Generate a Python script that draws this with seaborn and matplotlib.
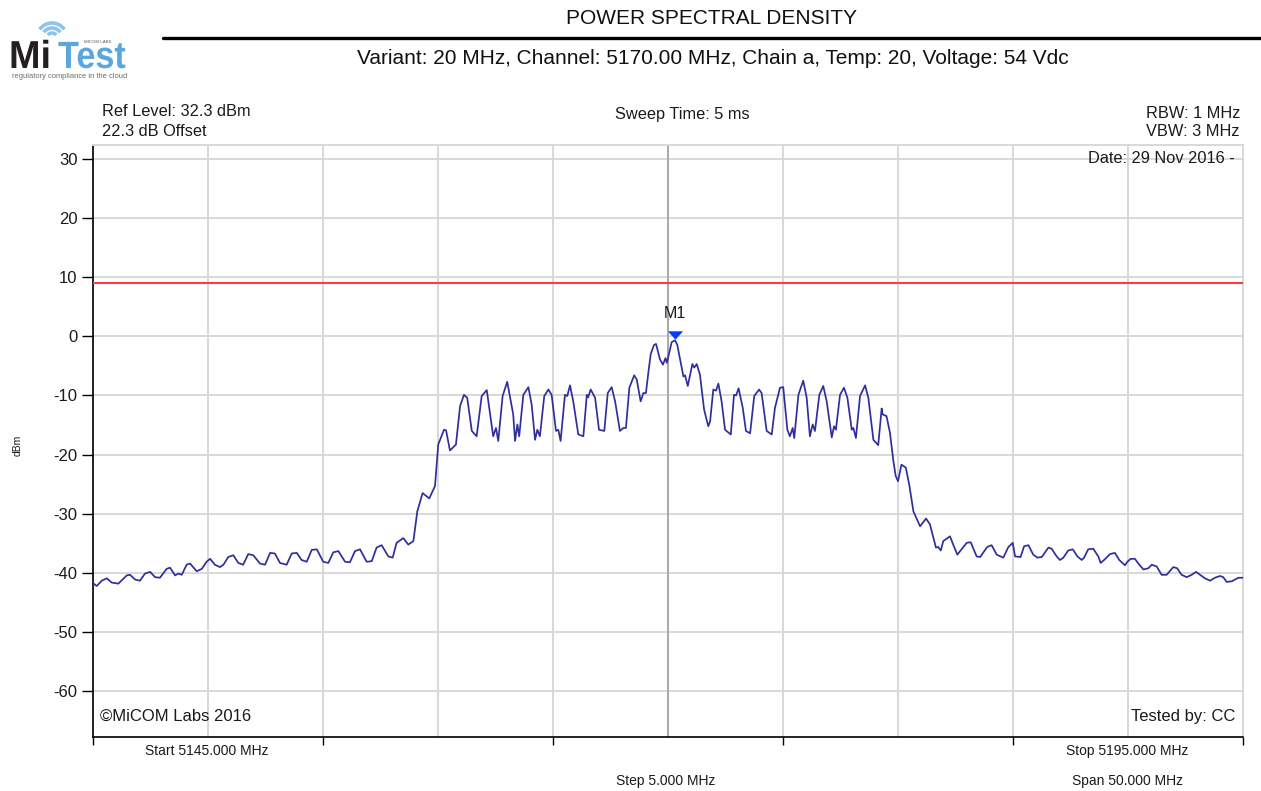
import numpy as np
import pandas as pd
import matplotlib
matplotlib.use("Agg")
import matplotlib.pyplot as plt
from matplotlib.lines import Line2D
from matplotlib.patches import PathPatch, Arc
from matplotlib.path import Path
from matplotlib.textpath import TextPath
from matplotlib.font_manager import FontProperties
from matplotlib.transforms import Affine2D, ScaledTranslation
import seaborn as sns

# Sweep settings (MHz / dBm)
START_MHZ = 5145.0
STOP_MHZ = 5195.0
STEP_MHZ = 5.0
REF_LEVEL_DBM = 32.3
LIMIT_DBM = 9.0

# Trace: frequency offset from start (MHz) and measured level (dBm)
lower_offsets = [0.00, 0.16, 0.38, 0.60, 0.81, 1.10, 1.47, 1.61, 1.83, 2.04,
                 2.26, 2.48, 2.70, 2.91, 3.20, 3.35, 3.57, 3.71, 3.86, 4.07,
                 4.22, 4.51, 4.73, 4.94, 5.09, 5.30, 5.52, 5.67, 5.88, 6.10,
                 6.32, 6.53, 6.75, 6.97, 7.26, 7.48, 7.70, 7.91, 8.13, 8.42,
                 8.64, 8.86, 9.07, 9.29, 9.51, 9.73, 10.01, 10.23, 10.45, 10.67,
                 10.96, 11.17, 11.39, 11.61, 11.90, 12.12, 12.33, 12.55, 12.84, 13.03,
                 13.20, 13.49, 13.71, 13.93]
lower_levels = [-41.7, -42.2, -41.3, -40.9, -41.6, -41.8, -40.4, -40.3, -41.1, -41.3,
                -40.1, -39.8, -40.7, -40.8, -39.3, -39.1, -40.4, -40.1, -40.3, -38.6,
                -38.4, -39.7, -39.3, -38.1, -37.6, -38.6, -39.0, -38.6, -37.3, -37.0,
                -38.3, -38.6, -36.8, -37.0, -38.4, -38.6, -36.6, -36.7, -38.3, -38.6,
                -36.7, -36.6, -37.8, -38.1, -36.1, -36.0, -38.1, -38.3, -36.5, -36.3,
                -38.1, -38.2, -36.3, -36.0, -38.1, -38.0, -35.7, -35.3, -37.2, -37.4,
                -34.9, -34.1, -35.2, -34.6]

band_offsets = [14.10, 14.33, 14.62, 14.87, 15.01, 15.26, 15.35, 15.52, 15.78, 15.96,
                16.13, 16.27, 16.47, 16.68, 16.90, 17.12, 17.40, 17.52, 17.62, 17.81,
                18.01, 18.27, 18.35, 18.45, 18.53, 18.71, 18.93, 19.07, 19.22, 19.32,
                19.43, 19.62, 19.80, 19.94, 20.13, 20.23, 20.33, 20.52, 20.62, 20.74,
                20.88, 21.10, 21.32, 21.47, 21.53, 21.64, 21.83, 22.00, 22.23, 22.38,
                22.55, 22.70, 22.91, 23.06, 23.17, 23.32, 23.53, 23.64, 23.81, 23.93,
                24.04, 24.15, 24.25, 24.39, 24.48, 24.65, 24.78, 24.89, 24.95, 25.16,
                25.30, 25.40, 25.67, 25.74, 25.86, 26.06, 26.14, 26.25, 26.39, 26.57,
                26.75, 26.83, 26.97, 27.09, 27.19, 27.33, 27.48, 27.73, 27.87, 27.96,
                28.07, 28.25, 28.39, 28.57, 28.75, 28.96, 29.07, 29.29, 29.51, 29.65,
                29.87, 30.01, 30.19, 30.30, 30.42, 30.49, 30.67, 30.88, 31.03, 31.17,
                31.29, 31.39, 31.58, 31.75, 31.90, 32.12, 32.22, 32.30, 32.48, 32.65,
                32.80, 32.99, 33.06, 33.17, 33.35, 33.57, 33.71, 33.93, 34.14, 34.29,
                34.33, 34.50, 34.65, 34.80, 34.90, 35.00, 35.15, 35.34, 35.49, 35.67]
band_levels = [-29.6, -26.5, -27.4, -25.3, -18.3, -15.8, -15.9, -19.3, -18.3, -11.8,
               -9.9, -10.4, -16.0, -16.9, -10.1, -9.1, -16.9, -15.5, -17.7, -10.1,
               -7.7, -13.2, -17.7, -14.9, -16.9, -9.9, -8.6, -11.5, -17.5, -15.8,
               -16.9, -10.1, -9.0, -9.9, -16.0, -15.8, -17.7, -9.9, -10.1, -8.3,
               -11.0, -16.6, -16.9, -9.9, -10.3, -9.0, -10.4, -15.8, -16.0, -9.6,
               -8.6, -11.0, -16.0, -15.5, -15.5, -8.7, -6.6, -7.3, -11.0, -9.6,
               -9.6, -6.0, -3.0, -1.5, -1.3, -3.9, -4.8, -3.7, -4.5, -1.0,
               -0.7, -1.4, -6.8, -6.6, -8.4, -4.7, -5.3, -4.7, -6.5, -12.4,
               -15.2, -14.4, -9.0, -9.2, -8.0, -11.0, -15.8, -16.6, -9.9, -10.0,
               -8.8, -12.1, -16.0, -16.4, -10.1, -9.0, -9.6, -16.0, -16.6, -12.1,
               -8.7, -8.6, -15.8, -16.9, -15.5, -17.2, -9.9, -7.5, -10.4, -16.9,
               -14.9, -16.0, -9.9, -8.4, -11.0, -17.1, -15.2, -15.8, -9.9, -8.7,
               -10.4, -15.8, -15.5, -17.2, -10.1, -8.3, -10.4, -17.5, -18.4, -12.2,
               -13.2, -13.5, -16.3, -21.1, -23.6, -24.5, -21.7, -22.2, -25.1, -29.6]

upper_offsets = [35.96, 36.22, 36.39, 36.65, 36.75, 36.86, 36.97, 37.26, 37.40, 37.58,
                 37.70, 37.99, 38.16, 38.42, 38.57, 38.88, 39.07, 39.29, 39.58, 39.80,
                 39.99, 40.09, 40.33, 40.48, 40.67, 40.88, 41.06, 41.25, 41.54, 41.68,
                 41.90, 42.04, 42.19, 42.40, 42.60, 42.80, 42.99, 43.09, 43.27, 43.49,
                 43.71, 43.81, 43.96, 44.22, 44.43, 44.62, 44.87, 44.97, 45.12, 45.30,
                 45.45, 45.67, 45.88, 46.03, 46.25, 46.46, 46.68, 46.97, 47.14, 47.33,
                 47.55, 47.77, 47.96, 48.13, 48.35, 48.57, 48.78, 49.00, 49.14, 49.29,
                 49.51, 49.80, 50.00]
upper_levels = [-32.1, -30.8, -31.8, -35.7, -35.6, -36.2, -34.6, -33.8, -35.2, -36.9,
                -36.3, -34.9, -34.8, -37.2, -37.3, -35.6, -35.3, -36.9, -37.4, -35.6,
                -34.9, -37.2, -37.3, -35.5, -35.3, -36.9, -37.4, -37.3, -35.7, -35.9,
                -37.2, -37.8, -37.4, -36.2, -36.0, -37.2, -37.8, -37.4, -36.0, -35.9,
                -37.2, -38.3, -37.8, -36.8, -36.6, -37.8, -38.7, -38.1, -37.6, -37.6,
                -38.4, -39.4, -39.2, -38.6, -38.9, -40.3, -40.3, -39.0, -39.2, -40.3,
                -40.7, -40.3, -39.8, -40.3, -40.9, -41.3, -40.8, -40.5, -40.7, -41.5,
                -41.4, -40.8, -40.8]

y_ticks = [30, 20, 10, 0, -10, -20, -30, -40, -50, -60]

title_text = "POWER SPECTRAL DENSITY"
subtitle_text = "Variant: 20 MHz, Channel: 5170.00 MHz, Chain a, Temp: 20, Voltage: 54 Vdc"

sns.set_theme(style="white")
plt.rcParams["font.family"] = ["Liberation Sans", "DejaVu Sans"]

W, H = 1261, 791
fig = plt.figure(figsize=(W / 100, H / 100), dpi=100)
fig.patch.set_facecolor("white")

TXT = "#1a1a1a"
INFO_FS = 11.8


def fx(px):
    return px / W


def fy(py):
    return 1 - py / H


# ---- main spectrum axes ----
ax = fig.add_axes([fx(93), fy(737), fx(1243) - fx(93), fy(145) - fy(737)])
ax.set_facecolor("white")

trace = pd.DataFrame({
    "freq": START_MHZ + np.array(lower_offsets + band_offsets + upper_offsets),
    "level": lower_levels + band_levels + upper_levels,
})
sns.lineplot(data=trace, x="freq", y="level", ax=ax, color="#2f2f9c",
             linewidth=1.25, sort=False, estimator=None, zorder=4)

ax.set_xlim(START_MHZ, STOP_MHZ)
ax.set_ylim(REF_LEVEL_DBM - 100, REF_LEVEL_DBM)
ax.set_xlabel("")
ax.set_ylabel("")

major_x = np.arange(START_MHZ, STOP_MHZ + 0.1, 2 * STEP_MHZ)
minor_x = np.arange(START_MHZ + STEP_MHZ, STOP_MHZ, 2 * STEP_MHZ)
ax.set_xticks(major_x)
ax.set_xticks(minor_x, minor=True)
ax.set_yticks(y_ticks)
ax.set_yticklabels([str(t) for t in y_ticks], fontsize=12, color=TXT)
ax.tick_params(axis="x", which="major", direction="out", length=6, width=1,
               color="black", labelbottom=False, bottom=True)
ax.tick_params(axis="x", which="minor", length=0, bottom=False)
ax.tick_params(axis="y", which="major", direction="out", length=8, width=1,
               color="black", pad=3, left=True)

ax.grid(True, which="both", axis="x", color="#d8d8d8", linewidth=1.4, zorder=0)
ax.grid(True, which="major", axis="y", color="#d8d8d8", linewidth=1.4, zorder=0)
ax.axvline((START_MHZ + STOP_MHZ) / 2, color="#a9a9a9", linewidth=1.4, zorder=1)

for side in ("left", "bottom"):
    ax.spines[side].set_color("black")
    ax.spines[side].set_linewidth(1.2)
for side in ("top", "right"):
    ax.spines[side].set_color("#d8d8d8")
    ax.spines[side].set_linewidth(1.4)

# limit line
ax.axhline(LIMIT_DBM, color="#ff3b3b", linewidth=1.5, zorder=3)

# peak marker M1
peak_idx = int(trace["level"].idxmax())
peak_f = trace.loc[peak_idx, "freq"]
peak_v = trace.loc[peak_idx, "level"]
tri = Path([(-1, 0.55), (1, 0.55), (0, -0.55), (-1, 0.55)],
           [Path.MOVETO, Path.LINETO, Path.LINETO, Path.CLOSEPOLY])
lift = ax.transData + ScaledTranslation(0, 4.0 / 72, fig.dpi_scale_trans)
ax.plot([peak_f], [peak_v], marker=tri, markersize=11, color="#0a3cff",
        markeredgewidth=0, linestyle="none", transform=lift, zorder=6)
ax.annotate("M1", xy=(peak_f, peak_v), xytext=(0, 19), textcoords="offset points",
            ha="center", va="center", fontsize=11.5, color=TXT, zorder=6)

# in-plot captions
ax.text(0.006, 0.022, "\u00a9MiCOM Labs 2016", transform=ax.transAxes,
        ha="left", va="bottom", fontsize=12, color=TXT)
ax.text(0.993, 0.022, "Tested by: CC", transform=ax.transAxes,
        ha="right", va="bottom", fontsize=12, color=TXT)
ax.text(0.993, 0.99, "Date: 29 Nov 2016 -", transform=ax.transAxes,
        ha="right", va="top", fontsize=INFO_FS, color=TXT)

# ---- header texts ----
fig.text(fx(712), fy(18), title_text, ha="center", va="center", fontsize=15, color="#111111")
fig.add_artist(Line2D([fx(163), fx(1261)], [fy(38), fy(38)], color="black",
                      linewidth=2.4, transform=fig.transFigure))
fig.text(fx(713), fy(59), subtitle_text, ha="center", va="center", fontsize=15, color="#111111")

fig.text(fx(102), fy(112), "Ref Level: 32.3 dBm", ha="left", va="center", fontsize=INFO_FS, color=TXT)
fig.text(fx(102), fy(132), "22.3 dB Offset", ha="left", va="center", fontsize=INFO_FS, color=TXT)
fig.text(fx(682), fy(114), "Sweep Time: 5 ms", ha="center", va="center", fontsize=INFO_FS, color=TXT)
fig.text(fx(1240), fy(113), "RBW: 1 MHz", ha="right", va="center", fontsize=INFO_FS, color=TXT)
fig.text(fx(1240), fy(132), "VBW: 3 MHz", ha="right", va="center", fontsize=INFO_FS, color=TXT)

fig.text(fx(18), fy(445), "dBm", ha="center", va="center", rotation=90, fontsize=7.5, color=TXT)

# ---- footer texts ----
fig.text(fx(207), fy(751), "Start %.3f MHz" % START_MHZ, ha="center", va="center", fontsize=10, color=TXT)
fig.text(fx(1127), fy(751), "Stop %.3f MHz" % STOP_MHZ, ha="center", va="center", fontsize=10, color=TXT)
fig.text(fx(666), fy(781), "Step %.3f MHz" % STEP_MHZ, ha="center", va="center", fontsize=10, color=TXT)
fig.text(fx(1128), fy(781), "Span %.3f MHz" % (STOP_MHZ - START_MHZ), ha="center", va="center",
         fontsize=10, color=TXT)

# ---- MiTest logo (pixel units, y pointing up) ----
lax = fig.add_axes([0, fy(90), fx(160), 90 / H])
lax.set_xlim(0, 160)
lax.set_ylim(H - 90, H)
lax.axis("off")

bold = FontProperties(family="Liberation Sans", weight="bold")
base_y = H - 68
mi = TextPath((0, 0), "Mi", size=39, prop=bold)
lax.add_patch(PathPatch(mi, transform=Affine2D().scale(0.97, 1.0).translate(9, base_y) + lax.transData,
                        facecolor="#231f20", edgecolor="none"))
te = TextPath((0, 0), "Test", size=38, prop=bold)
lax.add_patch(PathPatch(te, transform=Affine2D().scale(0.9, 1.0).translate(58, base_y) + lax.transData,
                        facecolor="#5aa6dd", edgecolor="none"))
for r in (5, 10, 15):
    lax.add_patch(Arc((52, H - 38), 2 * r, 2 * r, theta1=35, theta2=145,
                      color="#8cc4ea", linewidth=2.6))
lax.text(98, H - 42, "MICOM LABS", fontsize=3.2, color="#5a5a5a", ha="center", va="center")
lax.text(70, H - 76, "regulatory compliance in the cloud", fontsize=5.4, color="#6a6a6a",
         ha="center", va="center")

fig.savefig("out.png", dpi=100, facecolor="white")
